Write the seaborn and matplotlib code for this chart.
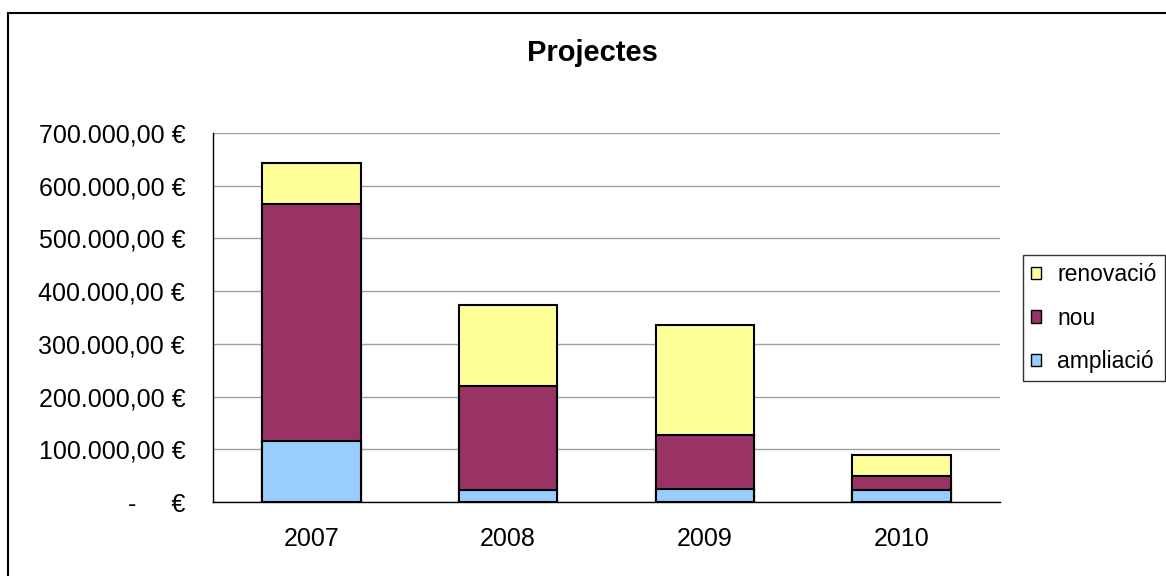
import numpy as np
import pandas as pd
import matplotlib
matplotlib.use("Agg")
import matplotlib.pyplot as plt
import seaborn as sns
from matplotlib.patches import Patch, Rectangle

sns.set_style("white")
plt.rcParams['font.family'] = ['Liberation Sans', 'DejaVu Sans']
plt.rcParams['text.color'] = 'black'
plt.rcParams['xtick.color'] = 'black'
plt.rcParams['ytick.color'] = 'black'

years = ["2007", "2008", "2009", "2010"]
ampliacio = [115000, 22000, 25000, 22000]
nou = [451000, 198000, 102000, 27000]
renovacio = [78000, 153000, 208000, 41000]
colors = {"ampliació": "#99CCFF", "nou": "#993366", "renovació": "#FFFF99"}
ytick_vals = [0, 100000, 200000, 300000, 400000, 500000, 600000, 700000]
ytick_labels = ["-     €", "100.000,00 €", "200.000,00 €", "300.000,00 €",
                "400.000,00 €", "500.000,00 €", "600.000,00 €", "700.000,00 €"]
title = "Projectes"
legend_order = ["renovació", "nou", "ampliació"]

df = pd.DataFrame({"year": years, "ampliació": ampliacio, "nou": nou, "renovació": renovacio})
df["c_ampl"] = df["ampliació"]
df["c_nou"] = df["c_ampl"] + df["nou"]
df["c_ren"] = df["c_nou"] + df["renovació"]

fig = plt.figure(figsize=(11.66, 5.76), dpi=100)
W, H = 1166, 576
ax = fig.add_axes([213 / W, 1 - 502 / H, (1000 - 213) / W, (502 - 133) / H])

for col, name in [("c_ren", "renovació"), ("c_nou", "nou"), ("c_ampl", "ampliació")]:
    sns.barplot(data=df, x="year", y=col, color=colors[name], width=0.5,
                edgecolor="black", linewidth=1.5, saturation=1, ax=ax, zorder=3)

ax.set_xlim(-0.5, 3.5)
ax.set_ylim(0, 700000)
ax.set_xlabel("")
ax.set_ylabel("")
ax.set_yticks(ytick_vals)
ax.set_yticklabels(ytick_labels, fontsize=18)
ax.set_xticks(range(len(years)))
ax.set_xticklabels(years, fontsize=18)
ax.set_xticks(np.arange(-0.5, len(years), 1.0), minor=True)
ax.tick_params(axis="x", which="major", length=0, pad=18)
ax.tick_params(axis="x", which="minor", length=5, width=1, direction="out", color="black")
ax.tick_params(axis="y", which="major", length=5, width=1, direction="out", pad=15, color="black")
ax.yaxis.grid(True, color="#A0A0A0", linewidth=1, zorder=0)
ax.set_axisbelow(True)
for s in ["top", "right"]:
    ax.spines[s].set_visible(False)
for s in ["left", "bottom"]:
    ax.spines[s].set_color("black")
    ax.spines[s].set_linewidth(1)

fig.text(592 / W, 1 - 53 / H, title, fontsize=21, fontweight="bold", ha="center", va="center")

handles = [Patch(facecolor=colors[n], edgecolor="black", linewidth=1) for n in legend_order]
leg = fig.legend(handles, legend_order, loc="upper left",
                 bbox_to_anchor=(1023 / W, 1 - 255 / H), bbox_transform=fig.transFigure,
                 fontsize=16.5, frameon=True, fancybox=False, borderaxespad=0,
                 handlelength=0.45, handleheight=0.45, handletextpad=0.7,
                 labelspacing=0.9, borderpad=0.35)
leg.get_frame().set_edgecolor("black")
leg.get_frame().set_linewidth(1)

fig.patches.append(Rectangle((7.5 / W, -0.1), 1.5, 1.1 - 13 / H, transform=fig.transFigure,
                             fill=False, edgecolor="black", linewidth=1.5))

fig.savefig("out.png", dpi=100)
